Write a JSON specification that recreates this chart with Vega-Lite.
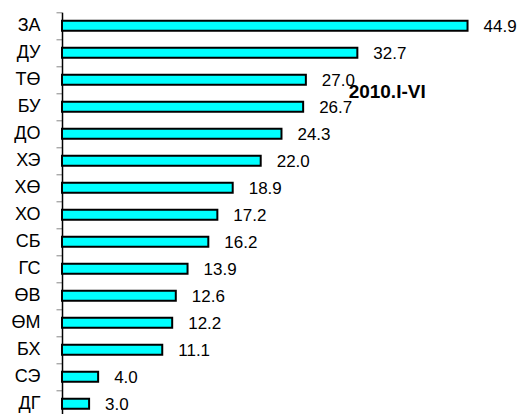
{
  "$schema": "https://vega.github.io/schema/vega-lite/v6.json",
  "autosize": {"type": "none"},
  "padding": {"left": 62, "top": 12.3, "right": 10.4, "bottom": 0},
  "width": 451.6,
  "height": 405,
  "background": "white",
  "config": {"view": {"stroke": null}, "font": "Liberation Sans"},
  "data": {"values": [
    {"cat": "ЗА", "v": 44.9},
    {"cat": "ДУ", "v": 32.7},
    {"cat": "ТӨ", "v": 27.0},
    {"cat": "БУ", "v": 26.7},
    {"cat": "ДО", "v": 24.3},
    {"cat": "ХЭ", "v": 22.0},
    {"cat": "ХӨ", "v": 18.9},
    {"cat": "ХО", "v": 17.2},
    {"cat": "СБ", "v": 16.2},
    {"cat": "ГС", "v": 13.9},
    {"cat": "ӨВ", "v": 12.6},
    {"cat": "ӨМ", "v": 12.2},
    {"cat": "БХ", "v": 11.1},
    {"cat": "СЭ", "v": 4.0},
    {"cat": "ДГ", "v": 3.0}
  ]},
  "encoding": {
    "y": {"field": "cat", "type": "nominal", "sort": null,
      "scale": {"paddingInner": 0, "paddingOuter": 0},
      "axis": {"title": null, "domainColor": "black", "domainWidth": 1.5, "tickColor": "#888888", "tickSize": 6, "tickBand": "extent", "labelFontSize": 18, "labelColor": "black", "labelPadding": 16, "labelFont": "Liberation Sans", "labelBaseline": "middle"}},
    "x": {"field": "v", "type": "quantitative", "scale": {"domain": [0, 50]}, "axis": null}
  },
  "layer": [
    {"mark": {"type": "bar", "size": 10, "fill": "#00FFFF", "stroke": "black", "strokeWidth": 2}},
    {"mark": {"type": "text", "align": "left", "baseline": "middle", "dx": 16, "dy": 1, "fontSize": 17, "color": "black"},
     "encoding": {"text": {"field": "v", "type": "quantitative", "format": ".1f"}}},
    {"transform": [{"filter": "datum.cat === 'БУ'"}],
     "mark": {"type": "text", "align": "center", "baseline": "middle", "dy": -15, "fontSize": 19, "fontWeight": "bold", "color": "black", "text": "2010.I-VI"},
     "encoding": {"x": {"datum": 36.0}}}
  ]
}
